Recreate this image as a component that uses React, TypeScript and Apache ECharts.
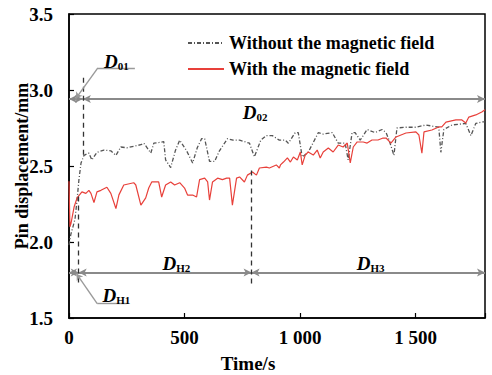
import React, { useEffect, useRef } from "react";
import * as echarts from "echarts";

// Without the magnetic field (gray dash-dot)
const withoutTime = [0, 8, 17, 26, 35, 43, 52, 65, 86, 99, 121, 151, 181, 203, 224, 250, 280, 311, 324, 354, 367, 390, 410, 418, 440, 460, 479, 509, 535, 555, 574, 587, 608, 630, 651, 686, 710, 738, 760, 781, 802, 830, 854, 880, 910, 936, 949, 979, 992, 1009, 1035, 1079, 1100, 1139, 1165, 1195, 1208, 1225, 1238, 1260, 1290, 1324, 1355, 1372, 1385, 1406, 1419, 1458, 1501, 1544, 1600, 1609, 1622, 1657, 1717, 1739, 1760, 1786, 1800];
const withoutDisp = [1.98, 2.05, 2.1, 2.15, 2.28, 2.41, 2.52, 2.57, 2.585, 2.54, 2.59, 2.605, 2.6, 2.57, 2.625, 2.62, 2.63, 2.64, 2.65, 2.585, 2.65, 2.655, 2.66, 2.54, 2.49, 2.6, 2.67, 2.6, 2.52, 2.62, 2.68, 2.68, 2.53, 2.53, 2.6, 2.68, 2.67, 2.67, 2.66, 2.65, 2.56, 2.67, 2.7, 2.7, 2.67, 2.67, 2.65, 2.72, 2.72, 2.56, 2.59, 2.72, 2.71, 2.72, 2.65, 2.65, 2.54, 2.72, 2.72, 2.67, 2.74, 2.72, 2.74, 2.72, 2.67, 2.57, 2.75, 2.755, 2.755, 2.77, 2.755, 2.59, 2.74, 2.77, 2.78, 2.7, 2.78, 2.79, 2.79];

// With the magnetic field (red solid)
const withTime = [0, 4, 9, 22, 35, 56, 73, 86, 95, 108, 121, 138, 164, 181, 203, 216, 237, 280, 289, 311, 332, 345, 358, 388, 401, 418, 440, 457, 479, 500, 513, 535, 552, 565, 587, 600, 608, 621, 643, 664, 682, 695, 707, 725, 738, 759, 772, 794, 811, 824, 854, 867, 897, 910, 915, 928, 945, 958, 971, 988, 1001, 1009, 1022, 1035, 1057, 1074, 1087, 1100, 1122, 1143, 1165, 1186, 1204, 1217, 1230, 1247, 1273, 1290, 1311, 1337, 1359, 1372, 1393, 1415, 1458, 1501, 1514, 1527, 1536, 1570, 1600, 1613, 1631, 1674, 1700, 1717, 1730, 1760, 1786, 1800];
const withDisp = [2.4, 2.1, 2.125, 2.23, 2.29, 2.33, 2.32, 2.34, 2.32, 2.26, 2.33, 2.34, 2.36, 2.32, 2.22, 2.31, 2.375, 2.39, 2.375, 2.243, 2.29, 2.355, 2.395, 2.395, 2.296, 2.375, 2.395, 2.375, 2.39, 2.355, 2.309, 2.309, 2.296, 2.41, 2.42, 2.395, 2.276, 2.395, 2.42, 2.41, 2.42, 2.42, 2.243, 2.42, 2.428, 2.395, 2.44, 2.46, 2.44, 2.487, 2.493, 2.487, 2.507, 2.487, 2.507, 2.526, 2.553, 2.526, 2.559, 2.54, 2.592, 2.507, 2.572, 2.592, 2.572, 2.605, 2.553, 2.592, 2.618, 2.592, 2.638, 2.625, 2.651, 2.52, 2.625, 2.658, 2.658, 2.651, 2.671, 2.671, 2.684, 2.684, 2.651, 2.691, 2.717, 2.724, 2.704, 2.585, 2.724, 2.737, 2.757, 2.757, 2.789, 2.803, 2.803, 2.783, 2.822, 2.836, 2.855, 2.87];

const seriesNames = ["Without the magnetic field", "With the magnetic field"];
const xTickValues = [0, 500, 1000, 1500];
const xTickLabels = ["0", "500", "1 000", "1 500"];

// Annotation values (time in s, displacement in mm)
const upperLevel = 2.94;
const lowerLevel = 1.8;
const tD01 = 60;
const tH1 = 42;
const tH2 = 790;
const tEnd = 1800;

const FONT = "'Liberation Serif', 'Times New Roman', serif";

export default function App() {
  const ref = useRef<HTMLDivElement>(null);

  useEffect(() => {
    if (!ref.current) return;
    const chart = echarts.init(ref.current, null, { renderer: "svg" });

    const zip = (t: number[], v: number[]) => t.map((x, i) => [x, v[i]]);
    const seg = (a: number[], b: number[]) => [{ coord: a }, { coord: b }];
    const label = (sub: string, x: number, y: number) => ({
      coord: [x, y],
      value: sub,
      label: {
        show: true,
        position: "inside",
        formatter: "{d|D}{s|" + sub + "}",
        rich: {
          d: { fontFamily: FONT, fontSize: 19, fontWeight: "bold", fontStyle: "italic", color: "#000" },
          s: { fontFamily: FONT, fontSize: 11, fontWeight: "bold", color: "#000", padding: [9, 0, 0, 0] },
        },
      },
    });

    chart.setOption({
      animation: false,
      grid: {
        left: 69,
        right: 7,
        top: 14,
        bottom: 57,
        outerBoundsMode: "none",
        containLabel: false,
        show: true,
        borderColor: "#000",
        borderWidth: 1.5,
      },
      legend: {
        data: seriesNames,
        orient: "vertical",
        left: 182,
        top: 29,
        itemWidth: 36,
        itemHeight: 12,
        itemGap: 8,
        itemStyle: { opacity: 0 },
        textStyle: { fontFamily: FONT, fontSize: 18, fontWeight: "bold", color: "#000" },
      },
      xAxis: {
        type: "value",
        min: 0,
        max: tEnd,
        interval: 500,
        name: "Time/s",
        nameLocation: "middle",
        nameGap: 36,
        nameMoveOverlap: false,
        nameTextStyle: { fontFamily: FONT, fontSize: 19, fontWeight: "bold", color: "#000", padding: [0, 58, 0, 0] },
        axisLine: { lineStyle: { color: "#000", width: 1.5 } },
        axisTick: { inside: true, length: 5, lineStyle: { color: "#000", width: 1.2 } },
        splitLine: { show: false },
        axisLabel: {
          fontFamily: FONT,
          fontSize: 19,
          fontWeight: "bold",
          color: "#000",
          margin: 10,
          formatter: (v: number) => {
            const i = xTickValues.indexOf(v);
            return i >= 0 ? xTickLabels[i] : "";
          },
        },
      },
      yAxis: {
        type: "value",
        min: 1.5,
        max: 3.5,
        interval: 0.5,
        name: "Pin displacement/mm",
        nameLocation: "middle",
        nameGap: 38,
        nameMoveOverlap: false,
        nameTextStyle: { fontFamily: FONT, fontSize: 18, fontWeight: "bold", color: "#000" },
        axisLine: { show: true, lineStyle: { color: "#000", width: 1.5 } },
        axisTick: { show: true, inside: true, length: 5, lineStyle: { color: "#000", width: 1.2 } },
        splitLine: { show: false },
        axisLabel: {
          fontFamily: FONT,
          fontSize: 19,
          fontWeight: "bold",
          color: "#000",
          margin: 16,
          formatter: (v: number) => v.toFixed(1),
        },
      },
      series: [
        {
          name: seriesNames[0],
          type: "line",
          data: zip(withoutTime, withoutDisp),
          symbol: "none",
          color: "#555",
          lineStyle: { color: "#555", width: 1.3, type: [4, 2, 1, 2] },
          z: 3,
        },
        {
          name: seriesNames[1],
          type: "line",
          data: zip(withTime, withDisp),
          symbol: "none",
          color: "#e8403a",
          lineStyle: { color: "#e8403a", width: 1.2 },
          z: 4,
        },
        {
          name: "dimension",
          type: "line",
          data: [],
          symbol: "none",
          markLine: {
            silent: true,
            symbol: ["arrow", "arrow"],
            symbolSize: [6, 8],
            label: { show: false },
            lineStyle: { color: "#8a8a8a", width: 1.8, type: "solid" },
            data: [
              seg([0, upperLevel], [tD01, upperLevel]),
              seg([tD01, upperLevel], [tEnd, upperLevel]),
              seg([0, lowerLevel], [tH1, lowerLevel]),
              seg([tH1, lowerLevel], [tH2, lowerLevel]),
              seg([tH2, lowerLevel], [tEnd, lowerLevel]),
            ],
          },
          markPoint: {
            silent: true,
            symbol: "circle",
            symbolSize: 0,
            data: [
              label("01", 205, 3.19),
              label("02", 805, 2.85),
              label("H1", 205, 1.645),
              label("H2", 465, 1.86),
              label("H3", 1305, 1.86),
            ],
          },
        },
        {
          name: "guides",
          type: "line",
          data: [],
          symbol: "none",
          markLine: {
            silent: true,
            symbol: ["none", "none"],
            label: { show: false },
            lineStyle: { color: "#333", width: 1.3, type: [5, 4] },
            data: [
              seg([tD01, 3.08], [tD01, 2.55]),
              seg([tH1, 2.3], [tH1, 1.72]),
              seg([tH2, 2.47], [tH2, 1.7]),
            ],
          },
        },
        {
          name: "leaders",
          type: "line",
          data: [],
          symbol: "none",
          markLine: {
            silent: true,
            symbol: ["none", "none"],
            label: { show: false },
            lineStyle: { color: "#9a9a9a", width: 1.4, type: "solid" },
            data: [
              [{ coord: [30, 2.945], symbol: "arrow", symbolSize: 6 }, { coord: [125, 3.145] }],
              seg([125, 3.145], [285, 3.145]),
              [{ coord: [33, 1.79], symbol: "arrow", symbolSize: 6 }, { coord: [122, 1.595] }],
              seg([122, 1.595], [250, 1.595]),
            ],
          },
        },
      ],
    });

    return () => chart.dispose();
  }, []);

  return (
    <div
      ref={ref}
      style={{ position: "fixed", left: 0, top: 0, width: 492, height: 375, background: "#fff" }}
    />
  );
}
